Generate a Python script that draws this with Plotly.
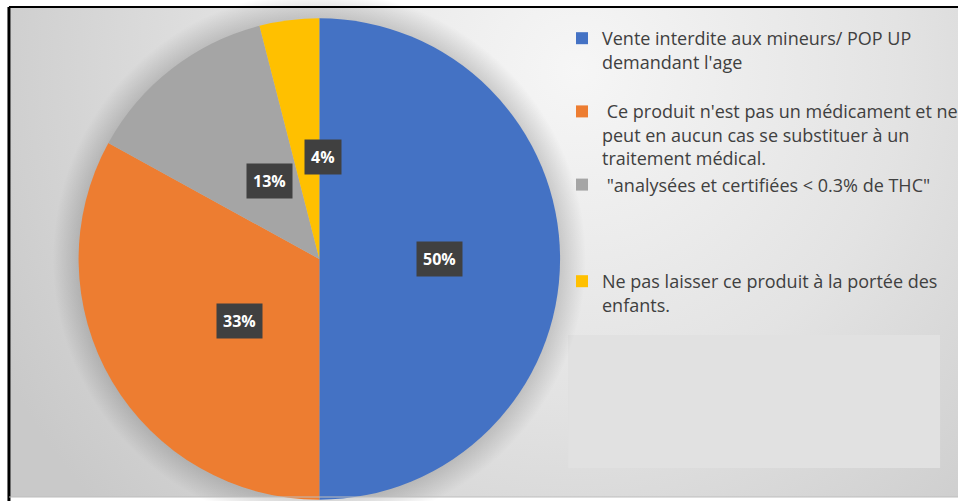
#!/usr/bin/env python3
# coding: utf-8

import base64

import numpy
from plotly import graph_objs as go


WIDTH, HEIGHT = 963, 501

LABELS = [
    "Vente interdite aux mineurs/ POP UP<br>demandant l'age",
    " Ce produit n'est pas un médicament et ne<br>peut en aucun cas se substituer à un<br>traitement médical.",
    " \"analysées et certifiées &lt; 0.3% de THC\"",
    "Ne pas laisser ce produit à la portée des<br>enfants.",
]
VALUES = [50, 33, 13, 4]
COLORS = ['#4472C4', '#ED7D31', '#A5A5A5', '#FFC000']

# extra blank lines after some legend entries (the legend spacing is uneven)
LEGEND_PAD = [1, 0, 3, 0]

# pie geometry in pixels (center and radius)
CX, CY, R = 321, 259, 242


def background_image():
    svg = f'''<svg xmlns="http://www.w3.org/2000/svg" width="{WIDTH}" height="{HEIGHT}"
 viewBox="0 0 {WIDTH} {HEIGHT}" preserveAspectRatio="none">
<defs>
<radialGradient id="bg" gradientUnits="userSpaceOnUse" cx="580" cy="70" r="650">
<stop offset="0" stop-color="#f6f6f6"/>
<stop offset="0.5" stop-color="#e3e3e3"/>
<stop offset="1" stop-color="#c9c9c9"/>
</radialGradient>
<radialGradient id="sh" gradientUnits="userSpaceOnUse" cx="{CX}" cy="{CY}" r="{R + 26}">
<stop offset="{R / (R + 26):.3f}" stop-color="#000" stop-opacity="0.15"/>
<stop offset="1" stop-color="#000" stop-opacity="0"/>
</radialGradient>
</defs>
<rect x="9" y="8" width="{WIDTH}" height="489" fill="url(#bg)"/>
<rect x="571" y="335" width="374" height="133" fill="#e1e1e1"/>
<circle cx="{CX}" cy="{CY}" r="{R + 26}" fill="url(#sh)"/>
</svg>'''
    return 'data:image/svg+xml;base64,' + base64.b64encode(svg.encode('utf-8')).decode('ascii')


def label_annotations():
    values = numpy.array(VALUES, dtype=float)
    frac = values / values.sum()
    mids = numpy.cumsum(frac) - frac / 2
    theta = 2 * numpy.pi * mids
    px = CX + 0.5 * R * numpy.sin(theta)
    py = CY - 0.5 * R * numpy.cos(theta)

    annotations = []
    for v, x, y in zip(VALUES, px, py):
        annotations.append(dict(
            x=x / WIDTH, y=1 - y / HEIGHT, xref='paper', yref='paper',
            text=f'<b>{v}%</b>', showarrow=False,
            font=dict(family='Open Sans', size=16, color='white'),
            bgcolor='#404040', borderpad=6,
        ))
    return annotations


def get_figure():
    legend_labels = [lab + '<br> ' * pad for lab, pad in zip(LABELS, LEGEND_PAD)]

    fig = go.Figure(go.Pie(
        labels=legend_labels,
        values=VALUES,
        sort=False,
        direction='clockwise',
        rotation=0,
        textinfo='none',
        marker=dict(colors=COLORS, line=dict(width=0)),
        domain=dict(x=[(CX - R) / WIDTH, (CX + R) / WIDTH],
                    y=[1 - (CY + R) / HEIGHT, 1 - (CY - R) / HEIGHT]),
    ))

    fig.update_layout(
        width=WIDTH,
        height=HEIGHT,
        margin=dict(l=0, r=0, t=0, b=0),
        paper_bgcolor='white',
        images=[dict(source=background_image(), xref='paper', yref='paper',
                     x=0, y=1, sizex=1, sizey=1, sizing='stretch',
                     xanchor='left', yanchor='top', layer='below')],
        legend=dict(
            x=565 / WIDTH, y=1 - 20 / HEIGHT, xanchor='left', yanchor='top',
            valign='top', bgcolor='rgba(0,0,0,0)',
            font=dict(family='Open Sans', size=18, color='#404040'),
        ),
        annotations=label_annotations(),
        shapes=[
            dict(type='line', xref='paper', yref='paper',
                 x0=9 / WIDTH, x1=1, y0=1 - 7 / HEIGHT, y1=1 - 7 / HEIGHT,
                 line=dict(color='black', width=2)),
            dict(type='line', xref='paper', yref='paper',
                 x0=9 / WIDTH, x1=9 / WIDTH, y0=1 - 7 / HEIGHT, y1=0,
                 line=dict(color='black', width=3)),
            dict(type='line', xref='paper', yref='paper',
                 x0=9 / WIDTH, x1=1, y0=1 - 497 / HEIGHT, y1=1 - 497 / HEIGHT,
                 line=dict(color='#bdbdbd', width=1)),
        ],
    )
    return fig


def main():
    fig = get_figure()
    # the page is photographed at exactly the figure size, so drop the margins
    # and any scrollbars of the page
    fig.write_html('out.html', config={'displayModeBar': False},
                   post_script="document.body.style.margin = '0'; "
                               "document.body.style.overflow = 'hidden'; "
                               "document.documentElement.style.overflow = 'hidden';")


if __name__ == "__main__":
    main()
